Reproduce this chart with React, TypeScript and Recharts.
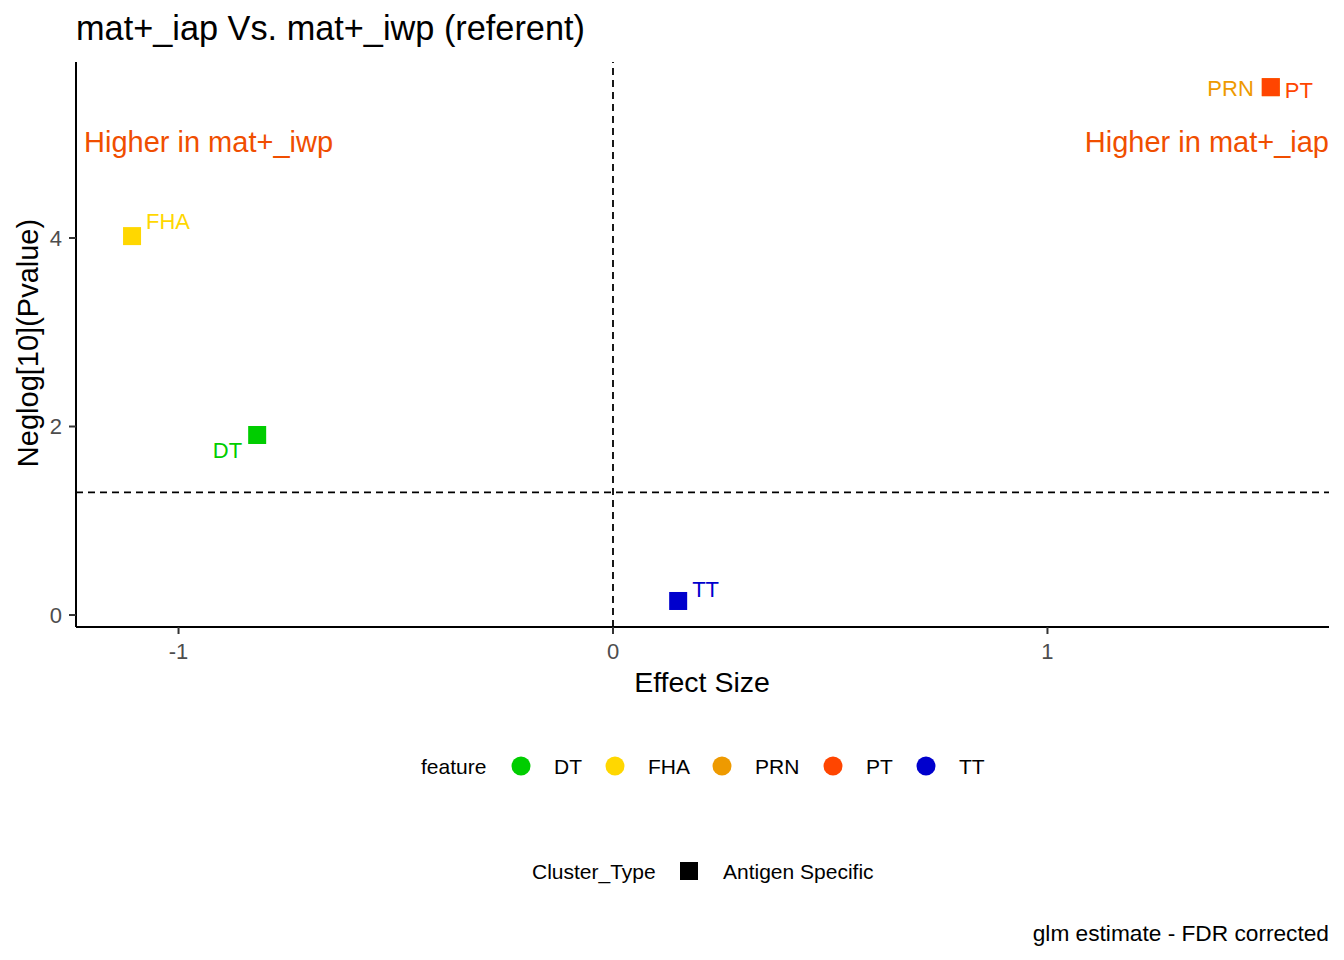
import { ReferenceLine, Scatter, ScatterChart, XAxis, YAxis } from "recharts";

// Antigen features with glm effect size and -log10 FDR-corrected p value
const FEATURES = ["DT", "FHA", "PRN", "PT", "TT"];
const EFFECT_SIZE = [-0.819, -1.107, 1.514, 1.514, 0.15];
const NEGLOG_P = [1.91, 4.02, 5.6, 5.6, 0.149];

const X_TICKS = [-1, 0, 1];
const Y_TICKS = [0, 2, 4];
const X_DOMAIN = [-1.236, 1.648];
const Y_DOMAIN = [-0.127, 5.867];
const P_CUTOFF = 1.301; // -log10(0.05)

const FEATURE_COLOR: Record<string, string> = {
  DT: "#00CD00",
  FHA: "#FFD700",
  PRN: "#EE9A00",
  PT: "#FF4500",
  TT: "#0000CD",
};

// repel-style label offsets (px, relative to the point centre)
const LABEL_NUDGE: Record<string, { dx: number; dy: number; anchor: "start" | "end" }> = {
  DT: { dx: -15, dy: 16, anchor: "end" },
  FHA: { dx: 14, dy: -15, anchor: "start" },
  PRN: { dx: -17, dy: 1, anchor: "end" },
  PT: { dx: 14, dy: 3, anchor: "start" },
  TT: { dx: 14, dy: -11, anchor: "start" },
};

const ROWS = FEATURES.map((feature, i) => ({
  feature,
  effect: EFFECT_SIZE[i],
  neglog: NEGLOG_P[i],
}));

const FONT = "'Liberation Sans', Arial, sans-serif";
const ANNOT = "#F04E00";
const SQ = 18;

function SquarePoint(props: any) {
  const { cx, cy, payload } = props;
  if (cx == null || cy == null) return null;
  const color = FEATURE_COLOR[payload.feature];
  const nudge = LABEL_NUDGE[payload.feature];
  return (
    <g>
      <rect x={cx - SQ / 2} y={cy - SQ / 2} width={SQ} height={SQ} fill={color} />
      <text
        x={cx + nudge.dx}
        y={cy + nudge.dy}
        textAnchor={nudge.anchor}
        dominantBaseline="central"
        fill={color}
        fontSize={22}
        fontFamily={FONT}
      >
        {payload.feature}
      </text>
    </g>
  );
}

const LEGEND_X = [521, 615, 722, 833, 926];

export default function App() {
  return (
    <div style={{ position: "relative", width: 1344, height: 960, background: "#fff" }}>
      <style>{`body{margin:0;background:#fff}`}</style>
      <ScatterChart
        width={1344}
        height={960}
        margin={{ top: 62, right: 15, left: 46, bottom: 303 }}
      >
        <XAxis
          type="number"
          dataKey="effect"
          domain={X_DOMAIN}
          ticks={X_TICKS}
          allowDataOverflow
          height={30}
          tickSize={7}
          tickMargin={9}
          axisLine={{ stroke: "#000", strokeWidth: 2 }}
          tickLine={{ stroke: "#333", strokeWidth: 2 }}
          tick={{ fontSize: 22, fill: "#4D4D4D", fontFamily: FONT }}
        />
        <YAxis
          type="number"
          dataKey="neglog"
          domain={Y_DOMAIN}
          ticks={Y_TICKS}
          allowDataOverflow
          width={30}
          tickSize={7}
          tickMargin={7}
          axisLine={{ stroke: "#000", strokeWidth: 2 }}
          tickLine={{ stroke: "#333", strokeWidth: 2 }}
          tick={{ fontSize: 22, fill: "#4D4D4D", fontFamily: FONT }}
        />
        <ReferenceLine x={0} stroke="#000" strokeWidth={1.8} strokeDasharray="7 5" />
        <ReferenceLine y={P_CUTOFF} stroke="#000" strokeWidth={1.8} strokeDasharray="7 5" />
        <Scatter data={ROWS} isAnimationActive={false} shape={SquarePoint} />
      </ScatterChart>

      <svg
        width={1344}
        height={960}
        style={{ position: "absolute", left: 0, top: 0, pointerEvents: "none" }}
        fontFamily={FONT}
      >
        <text x={76} y={40} fontSize={34.3} fill="#000">
          mat+_iap Vs. mat+_iwp (referent)
        </text>
        <text x={84} y={152} fontSize={29} fill={ANNOT}>
          Higher in mat+_iwp
        </text>
        <text x={1329} y={152} fontSize={29} fill={ANNOT} textAnchor="end">
          Higher in mat+_iap
        </text>
        <text x={702} y={692} fontSize={28.5} fill="#000" textAnchor="middle">
          Effect Size
        </text>
        <text
          x={38}
          y={343}
          fontSize={29}
          fill="#000"
          textAnchor="middle"
          transform="rotate(-90 38 343)"
        >
          Neglog[10](Pvalue)
        </text>

        {/* feature legend */}
        <text x={421} y={774} fontSize={21} fill="#000">
          feature
        </text>
        {FEATURES.map((f, i) => (
          <g key={f}>
            <circle cx={LEGEND_X[i]} cy={766} r={9.5} fill={FEATURE_COLOR[f]} />
            <text x={LEGEND_X[i] + 33} y={774} fontSize={21} fill="#000">
              {f}
            </text>
          </g>
        ))}

        {/* Cluster_Type legend */}
        <text x={532} y={879} fontSize={21} fill="#000">
          Cluster_Type
        </text>
        <rect x={680} y={862} width={18} height={18} fill="#000" />
        <text x={723} y={879} fontSize={21} fill="#000">
          Antigen Specific
        </text>

        <text x={1329} y={941} fontSize={22.7} fill="#000" textAnchor="end">
          glm estimate - FDR corrected
        </text>
      </svg>
    </div>
  );
}
